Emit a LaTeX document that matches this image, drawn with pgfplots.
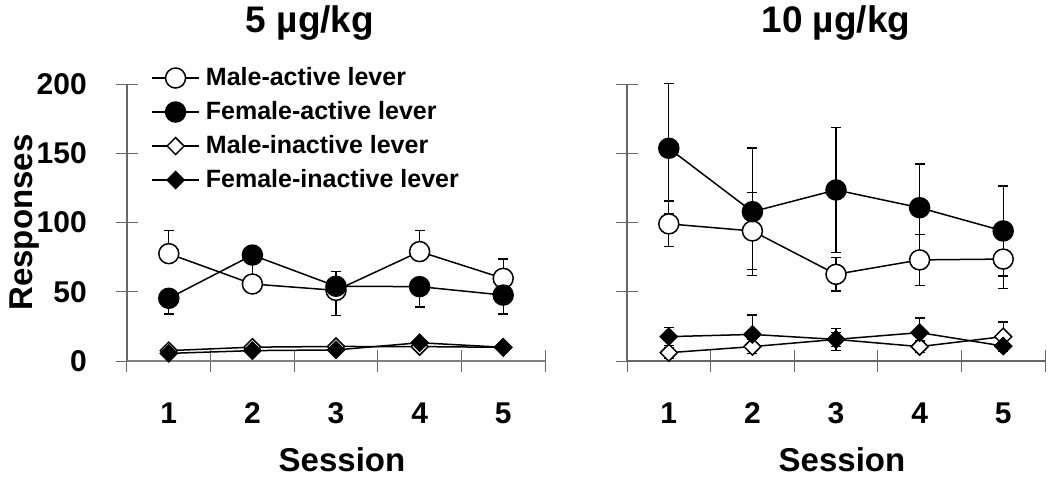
\documentclass[border=0pt]{standalone}
\usepackage{pgfplots}
\pgfplotsset{compat=1.18}
\usepackage{pgfplotstable}
\usepackage{fontspec}
\setmainfont{Liberation Sans}

% 5 ug/kg: session, mean, error up, error down
\pgfplotstableread{
x y ep em
1 77.5 16.5 0
2 55.6 0 0
3 51 0 18
4 79 15 0
5 59.7 14 0
}\lMA
\pgfplotstableread{
x y ep em
1 45.3 0 11.3
2 76.5 0 22
3 54 10.5 0
4 53.7 0 14.7
5 47.6 0 13.6
}\lFA
\pgfplotstableread{
x y
1 7.5
2 10
3 10.5
4 10.4
5 9.9
}\lMI
\pgfplotstableread{
x y
1 5.5
2 7.5
3 8
4 13.2
5 9.9
}\lFI

% 10 ug/kg
\pgfplotstableread{
x y ep em
1 99 16.5 16.5
2 93.9 28 28
3 62.6 12 12
4 73 18.5 18.5
5 73.6 21 21
}\rMA
\pgfplotstableread{
x y ep em
1 153.6 47 47
2 107.8 46 46
3 123.5 45 45
4 110.7 31.5 31.5
5 93.9 32.5 32.5
}\rFA
\pgfplotstableread{
x y ep em
1 6 4 4
2 10.4 5 5
3 15.6 5 5
4 10.4 4 4
5 17.6 10.5 10.5
}\rMI
\pgfplotstableread{
x y ep em
1 17.6 6.5 6.5
2 19.2 14 14
3 15.6 8 8
4 20.5 10.5 10.5
5 10.8 4 4
}\rFI

\pgfplotsset{
  panel/.style={
    x=41.8pt, y=0.6925pt,
    xmin=0.5, xmax=5.5, ymin=0, ymax=200,
    clip=false,
    axis x line*=bottom, axis y line*=left,
    axis line style={gray!80!black, line width=0.6pt},
    xtick={1,2,3,4,5},
    minor xtick={0.5,1.5,2.5,3.5,4.5,5.5},
    ytick={0,50,100,150,200},
    tick align=center,
    major tick length=11pt, minor tick length=11pt,
    tick style={gray!80!black, line width=0.5pt},
    major x tick style={draw=none},
    /pgf/number format/assume math mode=true,
    ticklabel style={font=\fontsize{15}{15}\selectfont\bfseries},
    xticklabel style={anchor=base, yshift=-25.5pt},
    yticklabel style={anchor=east, inner sep=0pt, xshift=-14.4pt},
    every axis title/.style={at={(axis description cs:0.5,1)}, anchor=base, yshift=26pt,
      font=\fontsize{18.5}{20}\selectfont\bfseries},
    every axis x label/.style={at={(axis description cs:0.5,0)}, anchor=base, yshift=-55.4pt, xshift=3pt,
      font=\fontsize{16.5}{18}\selectfont\bfseries},
    every axis y label/.style={at={(axis description cs:-0.2249,0.5)}, rotate=90, anchor=base,
      font=\fontsize{16.5}{18}\selectfont\bfseries},
  },
  errs/.style={forget plot, only marks, mark=none,
    error bars/.cd, y dir=both, y explicit, error mark=|,
    error bar style={draw=black, line width=0.6pt, solid},
    error mark options={draw=black, mark size=2.5pt, line width=0.6pt}},
  ser/.style={black, line width=0.75pt},
  ma/.style={ser, mark=*, mark size=5pt, mark options={fill=white, draw=black, line width=0.75pt}},
  fa/.style={ser, mark=*, mark size=5pt, mark options={fill=black, draw=black}},
  mi/.style={ser, mark=square*, mark size=3pt, mark options={rotate=45, fill=white, draw=black, line width=0.75pt}},
  fi/.style={ser, mark=square*, mark size=3pt, mark options={rotate=45, fill=black, draw=black}},
}

\begin{document}
\begin{tikzpicture}
\useasboundingbox (-63.5pt,-61.5pt) rectangle (461.5pt,180.5pt);

\begin{axis}[panel, at={(0pt,0pt)}, anchor=south west,
    title={5 µg/kg}, title style={xshift=-13pt},
    xlabel={Session}, ylabel={Responses},
    x axis line style={gray, line width=1.2pt},
    legend cell align=left,
    legend image code/.code={\draw[mark repeat=2, mark phase=2, #1] plot coordinates {(0pt,0pt) (11.8pt,0pt) (23.6pt,0pt)};},
    legend style={at={(0.057,1.07)}, anchor=north west, draw=none, fill=none, inner sep=0pt,
      row sep=4pt, font=\fontsize{12.5}{13}\selectfont\bfseries,
      nodes={inner xsep=3pt, inner ysep=1pt, text height=9pt, text depth=2pt}},
  ]
  \addplot[errs] table[x=x, y=y, y error plus=ep, y error minus=em] {\lMA};
  \addplot[errs] table[x=x, y=y, y error plus=ep, y error minus=em] {\lFA};
  \addplot[ma] table[x=x, y=y] {\lMA};
  \addlegendentry{Male-active lever}
  \addplot[fa] table[x=x, y=y] {\lFA};
  \addlegendentry{Female-active lever}
  \addplot[mi] table[x=x, y=y] {\lMI};
  \addlegendentry{Male-inactive lever}
  \addplot[fi] table[x=x, y=y] {\lFI};
  \addlegendentry{Female-inactive lever}
\end{axis}

\begin{axis}[panel, at={(250pt,0pt)}, anchor=south west,
    title={10 µg/kg}, xlabel={Session}, yticklabels={},
  ]
  \addplot[errs] table[x=x, y=y, y error plus=ep, y error minus=em] {\rMA};
  \addplot[errs] table[x=x, y=y, y error plus=ep, y error minus=em] {\rFA};
  \addplot[errs] table[x=x, y=y, y error plus=ep, y error minus=em] {\rMI};
  \addplot[errs] table[x=x, y=y, y error plus=ep, y error minus=em] {\rFI};
  \addplot[ma] table[x=x, y=y] {\rMA};
  \addplot[fa] table[x=x, y=y] {\rFA};
  \addplot[mi] table[x=x, y=y] {\rMI};
  \addplot[fi] table[x=x, y=y] {\rFI};
\end{axis}
\end{tikzpicture}
\end{document}
